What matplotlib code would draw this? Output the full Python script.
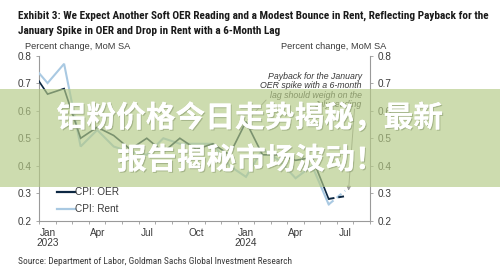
import matplotlib
matplotlib.use("Agg")
import matplotlib.pyplot as plt
from matplotlib import font_manager
from matplotlib.patches import Rectangle
from matplotlib.lines import Line2D
import matplotlib.patheffects as pe
import numpy as np
import pandas as pd

# ---- data -------------------------------------------------------------
months = pd.period_range("2022-12", "2024-06", freq="M")
oer = [0.75,
       0.66, 0.68, 0.50, 0.54, 0.51, 0.46, 0.50, 0.45, 0.50, 0.46, 0.48, 0.44,
       0.56, 0.44, 0.44, 0.42, 0.43, 0.28]
rent = [0.77,
        0.70, 0.77, 0.47, 0.53, 0.47, 0.45, 0.44, 0.50, 0.48, 0.48, 0.48, 0.40,
        0.36, 0.46, 0.42, 0.355, 0.40, 0.26]
forecast_month = pd.Period("2024-07", freq="M")
oer_forecast = 0.29
rent_forecast = 0.31

y_ticks = [0.2, 0.3, 0.4, 0.5, 0.6, 0.7, 0.8]
x_tick_months = ["2023-01", "2023-04", "2023-07", "2023-10",
                 "2024-01", "2024-04", "2024-07"]
x_tick_labels = ["Jan\n2023", "Apr", "Jul", "Oct", "Jan\n2024", "Apr", "Jul"]

title_lines = [
    "Exhibit 3: We Expect Another Soft OER Reading and a Modest Bounce in Rent, Reflecting Payback for the",
    "January Spike in OER and Drop in Rent with a 6-Month Lag",
]
units = "Percent change, MoM SA"
note = ["Payback for the January", "OER spike with a 6-month",
        "lag should weigh on the", "July reading"]
source = "Source: Department of Labor, Goldman Sachs Global Investment Research"
banner = ["铝粉价格今日走势揭秘，最新", "报告揭秘市场波动！"]

# ---- styling -----------------------------------------------------------
NAVY = "#0c2742"
LIGHT = "#a9c9e2"
GRID_GREY = "#9a9a9a"
TEXT = "#3a3a3a"

available = {f.name for f in font_manager.fontManager.ttflist}
def pick(cands):
    for c in cands:
        if c in available:
            return c
    return "DejaVu Sans"

NARROW = pick(["Liberation Sans Narrow", "Roboto Condensed", "Open Sans Condensed",
               "DejaVu Sans Condensed", "Roboto"])
ARIAL = pick(["Liberation Sans", "Arimo", "DejaVu Sans"])

plt.rcParams["font.family"] = [ARIAL, "DejaVu Sans"]

W, H = 500, 276
fig = plt.figure(figsize=(W / 100, H / 100), dpi=100)

def fx(px):
    return px / W

def fy(py):
    return 1 - py / H

base = pd.Period("2023-01", freq="M")
def pos(p):
    return (p - base).n

x = np.array([pos(p) for p in months])
xf = pos(forecast_month)

ax_left, ax_right = 39.3, 370.0
ax_top, ax_bot = 55.5, 221.0
ax = fig.add_axes([fx(ax_left), fy(ax_bot), fx(ax_right - ax_left),
                   (ax_bot - ax_top) / H])

ax.plot(x, rent, color=LIGHT, lw=1.5, solid_joinstyle="miter", zorder=3)
ax.plot(x, oer, color=NAVY, lw=1.2, solid_joinstyle="miter", zorder=4)
ax.plot([x[-1], xf], [rent[-1], rent_forecast], color=LIGHT, lw=1.5,
        ls=(0, (3, 2)), zorder=3)
ax.plot([x[-1], xf], [oer[-1], oer_forecast], color=NAVY, lw=1.4,
        ls=(0, (3, 2)), zorder=4)

ax.set_xlim(-0.5, 19.5)
ax.set_ylim(y_ticks[0], y_ticks[-1])

ax.spines["top"].set_visible(False)
for s in ["left", "right", "bottom"]:
    ax.spines[s].set_color(GRID_GREY)
    ax.spines[s].set_linewidth(0.8)

ax.set_yticks(y_ticks)
ax.set_yticklabels([f"{v:.1f}" for v in y_ticks])
ax.tick_params(axis="y", which="both", left=True, right=True, labelleft=True,
               labelright=True, direction="out", length=2.5, width=0.6,
               color=GRID_GREY, labelsize=7.2, labelcolor=TEXT, pad=3)

ax.set_xticks([pos(pd.Period(m, freq="M")) for m in x_tick_months])
ax.set_xticklabels(x_tick_labels, linespacing=1.05)
ax.set_xticks(np.arange(-0.5, 20, 1.0), minor=True)
ax.tick_params(axis="x", which="major", length=0, labelsize=7.2,
               labelcolor=TEXT, pad=5)
ax.tick_params(axis="x", which="minor", length=2.5, width=0.6,
               color=GRID_GREY, direction="out")

# legend
handles = [Line2D([], [], color=NAVY, lw=1.6), Line2D([], [], color=LIGHT, lw=1.6)]
leg = fig.legend(handles, ["CPI: OER", "CPI: Rent"], loc="upper left",
                 bbox_to_anchor=(fx(57), fy(187)), frameon=False,
                 fontsize=7.2, handlelength=1.75, handletextpad=0.05,
                 labelspacing=0.7, borderpad=0, borderaxespad=0)
for t in leg.get_texts():
    t.set_color(TEXT)

# units labels
fig.text(fx(25), fy(46.5), units, fontsize=6.7, color=TEXT, ha="left", va="center")
fig.text(fx(386.7), fy(46.5), units, fontsize=6.7, color=TEXT, ha="right", va="center")

# annotation
for i, line in enumerate(note):
    fig.text(fx(361.7), fy(76.7 + i * 9.2), line, fontsize=6.3, style="italic",
             color=TEXT, ha="right", va="center")

jan_spike = pos(pd.Period("2024-01", freq="M"))
ax.annotate("", xy=(jan_spike, oer[list(x).index(jan_spike)]),
            xytext=(268, H - 98), textcoords="figure pixels",
            arrowprops=dict(arrowstyle="-", color=GRID_GREY, lw=0.7))
ax.annotate("", xy=(xf + 0.2, rent_forecast),
            xytext=(354.5, H - 109), textcoords="figure pixels",
            arrowprops=dict(arrowstyle="-|>", color=GRID_GREY, lw=0.7,
                            mutation_scale=6, shrinkA=0, shrinkB=0))

# title and source
renderer = fig.canvas.get_renderer()
title_texts = []
for i, line in enumerate(title_lines):
    t = fig.text(fx(18), fy(15.5 + i * 15.5), line, fontsize=9, fontweight="bold",
                 family=[NARROW, "DejaVu Sans"], color="#1a1a1a",
                 ha="left", va="center")
    title_texts.append(t)
bw = title_texts[0].get_window_extent(renderer).width
size = 9 * 470 / bw
for t in title_texts:
    t.set_fontsize(size)

src = fig.text(fx(17.7), fy(261.7), source, fontsize=8, family=[NARROW, "DejaVu Sans"],
               color=TEXT, ha="left", va="center")
sw = src.get_window_extent(renderer).width
src.set_fontsize(8 * 273 / sw)

# translucent banner with headline text
fig.add_artist(Rectangle((0, fy(187)), 1, 98 / H, transform=fig.transFigure,
                         facecolor=(180 / 255, 202 / 255, 134 / 255), alpha=0.66,
                         edgecolor="none", zorder=10))
cjk = ["Noto Sans CJK SC", "DejaVu Sans"]
shadow = [pe.withSimplePatchShadow(offset=(0.8, -0.8), shadow_rgbFace="#7f8f66",
                                   alpha=0.5), pe.Normal()]
fig.text(fx(250), fy(118), banner[0], fontsize=21.4, fontweight="bold",
         family=cjk, color="white", ha="center", va="center", zorder=11,
         path_effects=shadow)
fig.text(fx(251), fy(160), banner[1], fontsize=21.4, fontweight="bold",
         family=cjk, color="white", ha="center", va="center", zorder=11,
         path_effects=shadow)

fig.savefig("out.png", dpi=100, facecolor="white")
